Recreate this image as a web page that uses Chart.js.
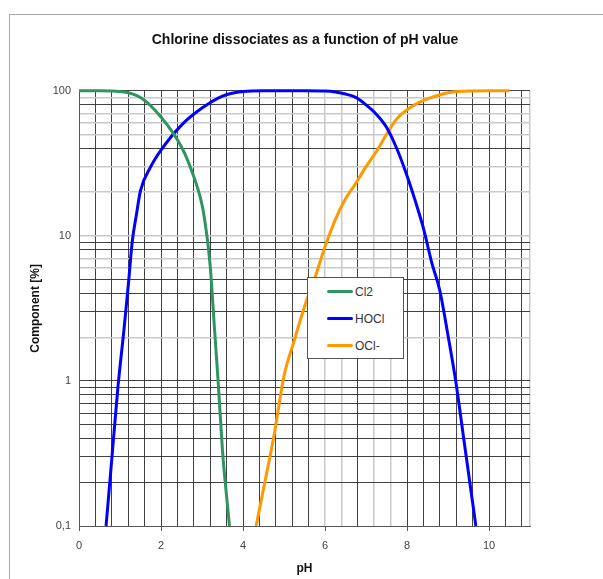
<!DOCTYPE html>
<html>
<head>
<meta charset="utf-8">
<script src="https://cdn.jsdelivr.net/npm/chart.js@4.4.1/dist/chart.umd.min.js"></script>
<style>
  html, body { margin: 0; padding: 0; background: #fff; }
  #wrap { position: relative; width: 603px; height: 579px; overflow: hidden; font-family: "Liberation Sans", Arial, sans-serif; }
  #frame { position: absolute; left: 9px; top: 14px; width: 700px; height: 700px; border-left: 1.5px solid #a8a8a8; border-top: 1.5px solid #a8a8a8; }
  #c { position: absolute; left: 0; top: 0; }
  #legend { position: absolute; left: 307px; top: 277px; width: 97px; height: 82px; border: 1px solid #555; background: #fff; box-sizing: border-box; }
  .item { position: absolute; left: 19px; height: 14px; font-size: 12px; color: #333; line-height: 14px; }
  .swatch { display: inline-block; width: 26px; height: 3px; border-radius: 1.5px; vertical-align: middle; margin-right: 2px; position: relative; top: -1px; }
</style>
</head>
<body>
<div id="wrap">
  <div id="frame"></div>
  <canvas id="c" width="603" height="579"></canvas>
  <div id="legend"></div>
</div>
<script>
// ---- data ----
const seriesNames = ['Cl2', 'HOCl', 'OCl-'];

const cl2PH     = [0, 0.5, 1.0, 1.5, 2.0, 2.5, 2.75, 3.0, 3.1, 3.2, 3.3, 3.4, 3.5, 3.6, 3.67];
const cl2Values = [100, 100, 99, 90, 66, 41, 28, 16.4, 11, 6.2, 2.4, 0.93, 0.33, 0.16, 0.1];

const hoclPH     = [0.66, 0.8, 0.95, 1.1, 1.2, 1.3, 1.4, 1.5, 1.75, 2.0, 2.5, 3.0, 3.5, 4.0, 4.5, 5.0, 5.5, 6.0, 6.25, 6.5, 6.75, 7.0, 7.25, 7.5, 7.75, 8.0, 8.2, 8.4, 8.6, 8.8, 9.0, 9.2, 9.4, 9.68];
const hoclValues = [0.1, 0.29, 0.91, 2.3, 4.5, 9.2, 14, 20.5, 30, 39, 58, 76, 92, 99, 100, 100, 100, 99.5, 98, 95, 90, 80, 69, 56, 40, 26, 17.5, 11.3, 6.6, 4.2, 2.06, 0.95, 0.37, 0.1];

const oclPH     = [4.32, 4.5, 4.75, 5.0, 5.25, 5.5, 5.75, 6.0, 6.25, 6.5, 6.75, 7.0, 7.25, 7.5, 7.75, 8.0, 8.25, 8.5, 9.0, 9.5, 10.0, 10.5];
const oclValues = [0.1, 0.18, 0.41, 1.08, 1.9, 3.25, 5.1, 8.4, 12.9, 18, 23, 30, 38, 50, 64, 74, 82, 88, 97, 99.5, 100, 100];

const xTickLabels = [0, 2, 4, 6, 8, 10];
const yTickLabels = { 0.1: '0,1', 1: '1', 10: '10', 100: '100' };

// ---- styling ----
const colors = ['#2e9460', '#0000ff', '#ff9900'];
const darkGrid = 'rgba(45,45,45,0.9)';
const lightGrid = '#c9c9c9';
const xLightLines = [6.0, 6.4, 7.2, 7.6, 11];
const yLightLines = [2, 6, 7, 10, 20, 30, 50, 60, 70, 90];

function pts(xs, ys) { return xs.map((x, i) => ({ x: x, y: ys[i] })); }
const seriesData = [pts(cl2PH, cl2Values), pts(hoclPH, hoclValues), pts(oclPH, oclValues)];

function near(v, list) { return list.some(l => Math.abs(l - v) < 1e-6); }

const tickMarks = {
  id: 'tickMarks',
  afterDraw(chart) {
    const ctx = chart.ctx, xs = chart.scales.x, a = chart.chartArea;
    ctx.save();
    ctx.strokeStyle = '#555';
    ctx.lineWidth = 1;
    xTickLabels.forEach(v => {
      const px = Math.round(xs.getPixelForValue(v)) + 0.5;
      ctx.beginPath(); ctx.moveTo(px, a.bottom); ctx.lineTo(px, a.bottom + 5); ctx.stroke();
    });
    ctx.restore();
  }
};

Chart.defaults.font.family = '"Liberation Sans", Arial, sans-serif';

const chart = new Chart(document.getElementById('c'), {
  type: 'line',
  data: {
    datasets: seriesNames.map((n, i) => ({
      label: n,
      data: seriesData[i],
      borderColor: colors[i],
      backgroundColor: colors[i],
      borderWidth: 3,
      pointRadius: 0,
      cubicInterpolationMode: 'monotone',
      clip: false,
      fill: false
    }))
  },
  options: {
    responsive: false,
    animation: false,
    layout: { padding: { left: 7, right: 0, top: 0, bottom: 0 } },
    plugins: {
      legend: { display: false },
      tooltip: { enabled: false },
      title: {
        display: true,
        text: 'Chlorine dissociates as a function of pH value',
        color: '#111',
        font: { size: 14, weight: 'bold' },
        padding: { top: 32, bottom: 42 }
      }
    },
    scales: {
      x: {
        type: 'linear',
        min: 0, max: 11,
        afterBuildTicks(scale) {
          const t = [];
          for (let k = 0; k <= 27; k++) t.push({ value: Math.round(k * 4) / 10 });
          t.push({ value: 11 });
          scale.ticks = t;
        },
        afterFit(scale) { scale.height = 53; },
        grid: {
          drawTicks: false,
          color: ctx => near(ctx.tick.value, xLightLines) ? lightGrid : darkGrid,
          lineWidth: ctx => near(ctx.tick.value, xLightLines) ? 1.5 : 1
        },
        border: { color: '#555', width: 1 },
        ticks: {
          autoSkip: false, maxRotation: 0,
          padding: 13,
          color: '#444',
          font: { size: 11 },
          callback: v => near(v, xTickLabels) ? String(v) : ''
        },
        title: {
          display: true, text: 'pH', color: '#111',
          font: { size: 12, weight: 'bold' },
          padding: { top: 0, bottom: 3 }
        }
      },
      y: {
        type: 'logarithmic',
        min: 0.1, max: 100,
        afterBuildTicks(scale) {
          const t = [];
          [0.1, 1, 10].forEach(d => { for (let m = 1; m <= 9; m++) t.push({ value: +(m * d).toPrecision(3) }); });
          t.push({ value: 100 });
          scale.ticks = t;
        },
        afterFit(scale) { scale.width = 72; },
        grid: {
          drawTicks: false,
          color: ctx => near(ctx.tick.value, yLightLines) ? lightGrid : darkGrid,
          lineWidth: ctx => near(ctx.tick.value, yLightLines) ? 1.5 : 1
        },
        border: { color: '#555', width: 1 },
        ticks: {
          autoSkip: false,
          padding: 8,
          color: '#444',
          font: { size: 11 },
          callback: v => yTickLabels[+(+v).toPrecision(3)] || ''
        },
        title: {
          display: true, text: 'Component [%]', color: '#111',
          font: { size: 12, weight: 'bold' },
          padding: { top: 21, bottom: 0 }
        }
      },
      yRight: {
        type: 'linear',
        position: 'right',
        display: true,
        afterFit(scale) { scale.width = 73; },
        grid: { display: false, drawTicks: false },
        border: { display: false },
        ticks: { display: false }
      }
    }
  },
  plugins: [tickMarks]
});

// HTML legend built from the datasets
const leg = document.getElementById('legend');
chart.data.datasets.forEach((ds, i) => {
  const d = document.createElement('div');
  d.className = 'item';
  d.style.top = (7 + i * 27) + 'px';
  d.innerHTML = '<span class="swatch" style="background:' + ds.borderColor + '"></span>' + ds.label;
  leg.appendChild(d);
});
</script>
</body>
</html>
